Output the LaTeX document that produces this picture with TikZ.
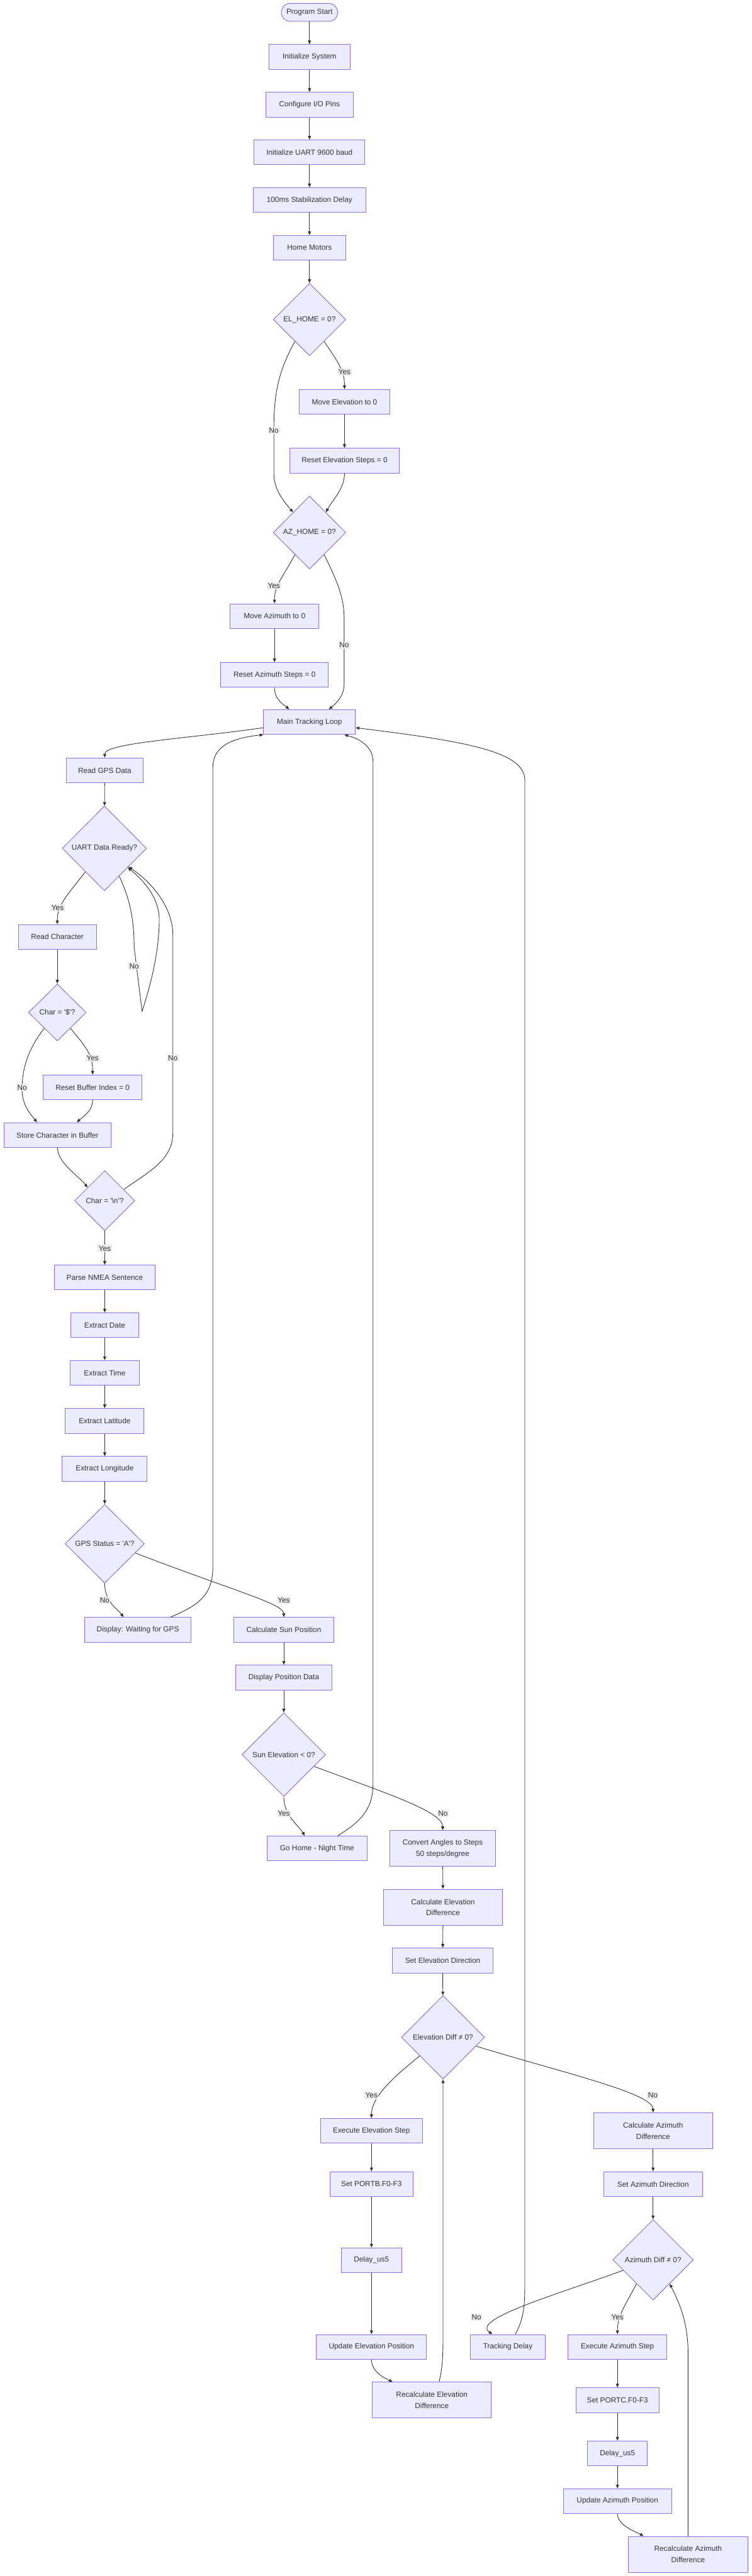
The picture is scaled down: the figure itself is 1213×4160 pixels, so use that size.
\documentclass[tikz,border=0pt]{standalone}
\usepackage{fontspec}
\setmainfont{Liberation Sans}
\usetikzlibrary{shapes.geometric,arrows.meta,calc}
\definecolor{nodefill}{HTML}{ECECFF}
\definecolor{nodeline}{HTML}{9370DB}
\definecolor{linec}{HTML}{333333}
\definecolor{lblbg}{HTML}{EBEBEB}
\tikzset{
  box/.style={draw=nodeline, fill=nodefill, line width=1pt, inner sep=0pt, text=linec,
    font=\fontsize{12}{18}\selectfont, align=center},
  dia/.style={box, diamond},
  flow/.style={draw=linec, line width=0.9pt, -{Stealth[length=6pt,width=5pt,inset=0pt]}},
  lbl/.style={fill=lblbg, text=linec, font=\fontsize{12}{14}\selectfont, inner sep=1.5pt},
}
\begin{document}
\begin{tikzpicture}[x=1pt,y=-1pt]
\useasboundingbox (0,0) rectangle (1213,4160);
% ---------- nodes ----------
\node[box, rounded corners=14.5pt, minimum width=91pt, minimum height=29pt] (start) at (499.5,20) {Program Start};
\node[box, minimum width=131pt, minimum height=40pt] (init) at (499.5,92) {Initialize System};
\node[box, minimum width=141pt, minimum height=40pt] (cfg) at (499.5,169) {Configure I/O Pins};
\node[box, minimum width=179pt, minimum height=40pt] (uartinit) at (499.5,246) {Initialize UART 9600 baud};
\node[box, minimum width=182pt, minimum height=40pt] (stab) at (499.5,323) {100ms Stabilization Delay};
\node[box, minimum width=117pt, minimum height=40pt] (home) at (499.5,400) {Home Motors};
\node[dia, minimum width=117pt, minimum height=117pt] (elh) at (499.5,516) {EL\_HOME = 0?};
\node[box, minimum width=147pt, minimum height=40pt] (moveel) at (556,649) {Move Elevation to 0};
\node[box, minimum width=177pt, minimum height=40pt] (rstel) at (556,744) {Reset Elevation Steps = 0};
\node[dia, minimum width=117pt, minimum height=118pt] (azh) at (499.5,860) {AZ\_HOME = 0?};
\node[box, minimum width=143pt, minimum height=40pt] (moveaz) at (443,995) {Move Azimuth to 0};
\node[box, minimum width=174pt, minimum height=40pt] (rstaz) at (443,1090) {Reset Azimuth Steps = 0};
\node[box, minimum width=148pt, minimum height=40pt] (mtl) at (499.5,1166) {Main Tracking Loop};
\node[box, minimum width=124pt, minimum height=40pt] (rgps) at (169,1244) {Read GPS Data};
\node[dia, minimum width=136pt, minimum height=137pt] (uready) at (168.5,1370) {UART Data Ready?};
\node[box, minimum width=126pt, minimum height=40pt] (rchar) at (92.5,1513) {Read Character};
\node[dia, minimum width=93pt, minimum height=92pt] (cdollar) at (92.5,1635) {Char = \textquotesingle\$\textquotesingle?};
\node[box, minimum width=160pt, minimum height=40pt] (rbuf) at (149.5,1756) {Reset Buffer Index = 0};
\node[box, minimum width=173pt, minimum height=40pt] (store) at (92.8,1833) {Store Character in Buffer};
\node[dia, minimum width=97pt, minimum height=97pt] (cnl) at (169,1939) {Char = \textquotesingle\textbackslash n\textquotesingle?};
\node[box, minimum width=163pt, minimum height=40pt] (parse) at (169,2063) {Parse NMEA Sentence};
\node[box, minimum width=109pt, minimum height=40pt] (edate) at (169,2140) {Extract Date};
\node[box, minimum width=111pt, minimum height=40pt] (etime) at (169,2217) {Extract Time};
\node[box, minimum width=127pt, minimum height=40pt] (elat) at (169,2294.6) {Extract Latitude};
\node[box, minimum width=137pt, minimum height=40pt] (elon) at (169,2372) {Extract Longitude};
\node[dia, minimum width=128pt, minimum height=127pt] (gps) at (169,2493) {GPS Status = \textquotesingle A\textquotesingle?};
\node[box, minimum width=171pt, minimum height=40pt] (wait) at (222.5,2632) {Display: Waiting for GPS};
\node[box, minimum width=162pt, minimum height=40pt] (sun) at (458,2632) {Calculate Sun Position};
\node[box, minimum width=156pt, minimum height=40pt] (dpos) at (458,2709) {Display Position Data};
\node[dia, minimum width=135pt, minimum height=135pt] (sunel) at (458,2833.5) {Sun Elevation < 0?};
\node[box, minimum width=161.5pt, minimum height=40pt] (ghome) at (511.7,2985) {Go Home - Night Time};
\node[box, minimum width=171pt, minimum height=58pt] (conv) at (714.5,2985) {Convert Angles to Steps\\50 steps/degree};
\node[box, minimum width=192pt, minimum height=58pt] (celd) at (715,3080) {Calculate Elevation\\Difference};
\node[box, minimum width=163pt, minimum height=40pt] (seld) at (714.5,3166) {Set Elevation Direction};
\node[dia, minimum width=134pt, minimum height=135pt] (eldiff) at (715,3290) {Elevation Diff ≠ 0?};
\node[box, minimum width=164pt, minimum height=40pt] (exel) at (599.5,3441) {Execute Elevation Step};
\node[box, minimum width=192pt, minimum height=58pt] (cazd) at (1054,3441) {Calculate Azimuth\\Difference};
\node[box, minimum width=134pt, minimum height=40pt] (portb) at (599.5,3527) {Set PORTB.F0-F3};
\node[box, minimum width=159pt, minimum height=40pt] (sazd) at (1054,3527) {Set Azimuth Direction};
\node[box, minimum width=97pt, minimum height=40pt] (dly1) at (599.5,3650) {Delay\_us5};
\node[dia, minimum width=130pt, minimum height=130pt] (azdiff) at (1054,3649.4) {Azimuth Diff ≠ 0?};
\node[box, minimum width=178pt, minimum height=40pt] (updel) at (599.5,3790) {Update Elevation Position};
\node[box, minimum width=121pt, minimum height=40pt] (trk) at (819.6,3790) {Tracking Delay};
\node[box, minimum width=159pt, minimum height=40pt] (exaz) at (996.5,3790) {Execute Azimuth Step};
\node[box, minimum width=192pt, minimum height=58pt] (recel) at (697,3876) {Recalculate Elevation\\Difference};
\node[box, minimum width=134pt, minimum height=40pt] (portc) at (996.5,3876) {Set PORTC.F0-F3};
\node[box, minimum width=97pt, minimum height=40pt] (dly2) at (996.5,3962) {Delay\_us5};
\node[box, minimum width=175pt, minimum height=40pt] (upaz) at (996.5,4039) {Update Azimuth Position};
\node[box, minimum width=193pt, minimum height=58pt] (recaz) at (1110.5,4125) {Recalculate Azimuth\\Difference};
% ---------- edges ----------
\draw[flow] (start) -- (init);
\draw[flow] (init) -- (cfg);
\draw[flow] (cfg) -- (uartinit);
\draw[flow] (uartinit) -- (stab);
\draw[flow] (stab) -- (home);
\draw[flow] (home) -- (elh);
\draw[flow] ($(elh.south)!0.4!(elh.east)$) .. controls (548,588) and (556,600) .. (moveel.north);
\draw[flow] ($(elh.south)!0.4!(elh.west)$) .. controls (452,595) and (442,630) .. (442,690) -- (442,765) .. controls (442,792) and (460,812) .. ($(azh.north)!0.45!(azh.west)$);
\draw[flow] (moveel) -- (rstel);
\draw[flow] (rstel.south) .. controls (556,790) and (536,808) .. ($(azh.north)!0.45!(azh.east)$);
\draw[flow] ($(azh.south)!0.4!(azh.west)$) .. controls (455,935) and (443,945) .. (moveaz.north);
\draw[flow] ($(azh.south)!0.4!(azh.east)$) .. controls (545,940) and (555.4,965) .. (555.4,1000) -- (555.4,1105) .. controls (555.4,1125) and (540,1138) .. ($(mtl.north)!0.42!(mtl.north east)$);
\draw[flow] (moveaz) -- (rstaz);
\draw[flow] (rstaz.south) .. controls (443,1130) and (458,1138) .. ($(mtl.north)!0.44!(mtl.north west)$);
\draw[flow] ($(mtl.west)!0.45!(mtl.south west)$) .. controls (300,1193) and (169,1200) .. (rgps.north);
\draw[flow] (rgps) -- (uready);
\draw[flow] ($(uready.south)!0.45!(uready.west)$) .. controls (105,1450) and (92.5,1462) .. (rchar.north);
\coordinate (looptip) at (229.3,1633);
\draw[flow] ($(uready.south)!0.35!(uready.east)$) .. controls (206,1445) and (216.5,1475) .. (216.5,1530) -- (looptip) .. controls (246,1583) and (257,1530) .. (257,1485) .. controls (257,1450) and (232,1422) .. ($(uready.south)!0.55!(uready.east)$);
\draw[flow] (rchar) -- (cdollar);
\draw[flow] ($(cdollar.south)!0.45!(cdollar.east)$) .. controls (138,1690) and (149.5,1702) .. (rbuf.north);
\draw[flow] ($(cdollar.south)!0.45!(cdollar.west)$) .. controls (45,1695) and (35.6,1725) .. (35.6,1760) .. controls (35.6,1785) and (50,1800) .. ($(store.north)!0.38!(store.north west)$);
\draw[flow] (rbuf.south) .. controls (149.5,1795) and (132,1805) .. ($(store.north)!0.358!(store.north east)$);
\draw[flow] (store.south) .. controls (92.8,1878) and (128,1900) .. ($(cnl.north)!0.565!(cnl.west)$);
\draw[flow] (cnl) -- (parse);
\draw[flow] ($(cnl.north)!0.63!(cnl.east)$) .. controls (235,1895) and (279,1875) .. (279,1830) -- (279,1510) .. controls (279,1465) and (245,1425) .. ($(uready.south)!0.57!(uready.east)$);
\draw[flow] (parse) -- (edate);
\draw[flow] (edate) -- (etime);
\draw[flow] (etime) -- (elat);
\draw[flow] (elat) -- (elon);
\draw[flow] (elon) -- (gps);
\draw[flow] (gps.south) .. controls (169,2588) and (190,2598) .. ($(wait.north)!0.268!(wait.north west)$);
\draw[flow] ($(gps.east)!0.234!(gps.south)$) .. controls (380,2570) and (458,2590) .. (sun.north);
\draw[flow] ($(wait.north)!0.61!(wait.north east)$) .. controls (322,2592) and (343.5,2575) .. (343.5,2530) -- (343.5,1240) .. controls (343.5,1212) and (362,1193) .. (mtl.south west);
\draw[flow] (sun) -- (dpos);
\draw[flow] (dpos) -- (sunel);
\draw[flow] (sunel.south) .. controls (458,2932) and (482,2948) .. ($(ghome.north)!0.244!(ghome.north west)$);
\draw[flow] ($(sunel.east)!0.28!(sunel.south)$) .. controls (620,2895) and (714.5,2925) .. (conv.north);
\draw[flow] ($(ghome.north)!0.41!(ghome.north east)$) .. controls (585,2940) and (602,2920) .. (602,2880) -- (602,1230) .. controls (602,1205) and (580,1193) .. ($(mtl.south)!0.755!(mtl.south east)$);
\draw[flow] (conv) -- (celd);
\draw[flow] (celd) -- (seld);
\draw[flow] (seld) -- (eldiff);
\draw[flow] ($(eldiff.south)!0.558!(eldiff.west)$) .. controls (638,3352) and (599.5,3385) .. (exel.north);
\draw[flow] ($(eldiff.east)!0.21!(eldiff.south)$) .. controls (900,3345) and (1054,3380) .. (cazd.north);
\draw[flow] (exel) -- (portb);
\draw[flow] (portb) -- (dly1);
\draw[flow] (dly1) -- (updel);
\draw[flow] (updel.south) .. controls (599.5,3830) and (620,3840) .. ($(recel.north)!0.656!(recel.north west)$);
\draw[flow] ($(recel.north)!0.12!(recel.north east)$) .. controls (714,3825) and (715,3805) .. (715,3775) -- (eldiff.south);
\draw[flow] (cazd) -- (sazd);
\draw[flow] (sazd) -- (azdiff);
\draw[flow] ($(azdiff.south)!0.41!(azdiff.west)$) .. controls (1010,3722) and (996.5,3738) .. (exaz.north);
\draw[flow] ($(azdiff.west)!0.26!(azdiff.south)$) .. controls (900,3705) and (760,3745) .. ($(trk.north)!0.41!(trk.north west)$);
\draw[flow] ($(trk.north)!0.2!(trk.north east)$) .. controls (845,3745) and (847,3725) .. (847,3690) -- (847,1260) .. controls (847,1215) and (760,1198) .. ($(mtl.east)!0.45!(mtl.south east)$);
\draw[flow] (exaz) -- (portc);
\draw[flow] (portc) -- (dly2);
\draw[flow] (dly2) -- (upaz);
\draw[flow] (upaz.south) .. controls (996.5,4078) and (1025,4088) .. ($(recaz.north)!0.74!(recaz.north west)$);
\draw[flow] (recaz.north) -- (1110.5,3800) .. controls (1110.5,3750) and (1096,3718) .. ($(azdiff.south)!0.41!(azdiff.east)$);
% ---------- edge labels ----------
\node[lbl] (l1) at (556,601) {Yes};
\node[lbl] (l2) at (442,695) {No};
\node[lbl] (l3) at (442,946) {Yes};
\node[lbl] (l4) at (555.4,1042) {No};
\node[lbl] (l5) at (93,1466) {Yes};
\node[lbl] (l6) at (216.6,1560) {No};
\node[lbl] (l7) at (149.5,1708.5) {Yes};
\node[lbl] (l8) at (35.6,1756) {No};
\node[lbl] (l9) at (279,1709) {No};
\node[lbl] (l10) at (169,2016) {Yes};
\node[lbl] (l11) at (169,2584) {No};
\node[lbl] (l12) at (458,2584) {Yes};
\node[lbl] (l13) at (458,2928.6) {Yes};
\node[lbl] (l14) at (714.8,2928.6) {No};
\node[lbl] (l15) at (599.5,3384) {Yes};
\node[lbl] (l16) at (1053.5,3384) {No};
\node[lbl] (l17) at (769,3742) {No};
\node[lbl] (l18) at (996.5,3742) {Yes};
\end{tikzpicture}
\end{document}
